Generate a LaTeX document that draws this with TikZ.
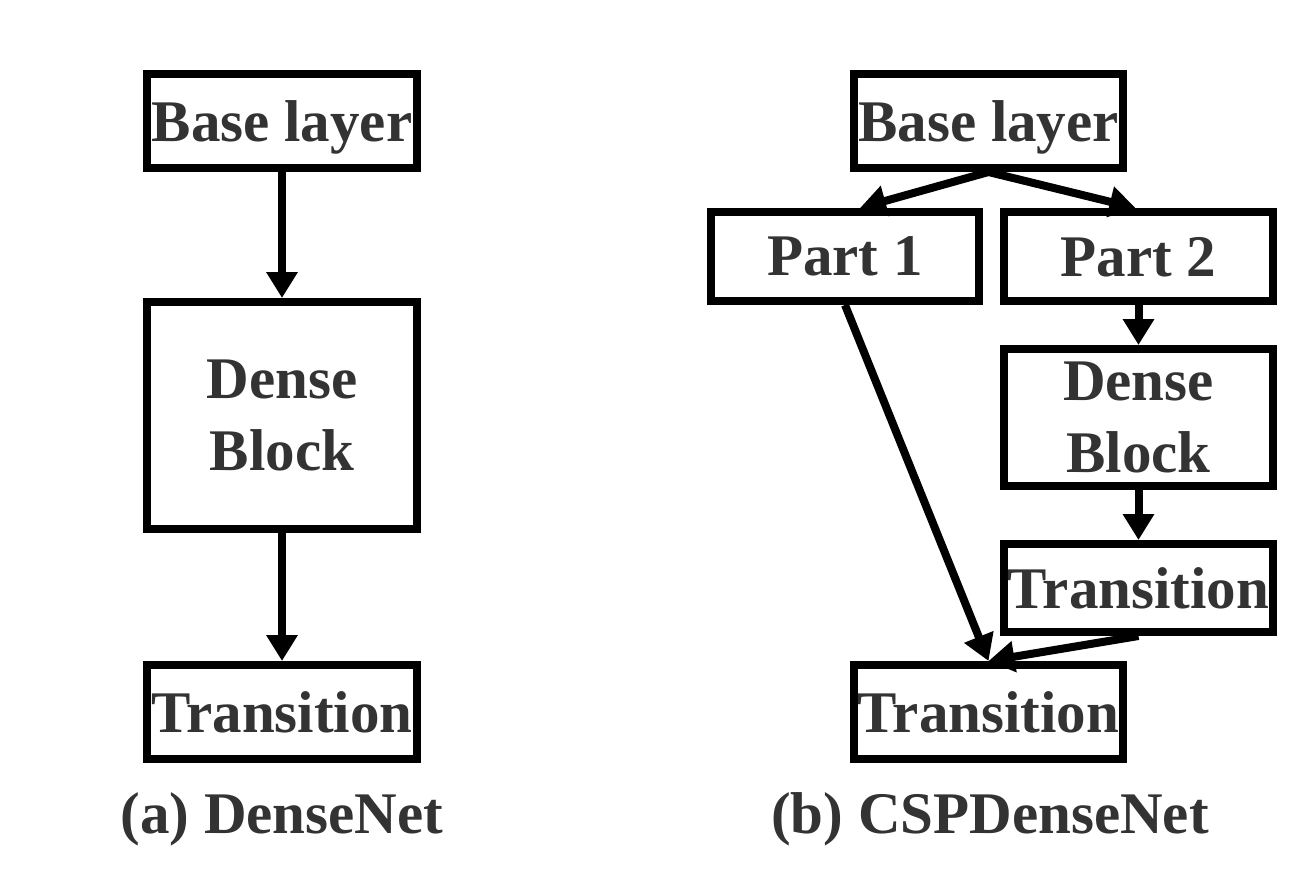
\documentclass[tikz,border=0pt]{standalone}
\usepackage{xcolor, fontspec}
\usepackage{tikz}
\usetikzlibrary{arrows.meta}
\setmainfont{Liberation Serif}
\definecolor{txtgray}{RGB}{51,51,51}

\begin{document}
\begin{tikzpicture}
	[x=1pt, y=-1pt,
	box/.style={draw=black, line width=8pt, outer sep=4pt, inner sep=0pt,
		minimum width=270pt, minimum height=94pt, align=center, text depth=0pt,
		font=\fontsize{59}{72}\selectfont\bfseries, text=txtgray},
	caption/.style={font=\fontsize{59}{72}\selectfont\bfseries, text=txtgray, text depth=0pt},
	link/.style={line width=8pt, -{Triangle[width=30pt,length=26pt]}}]
	\useasboundingbox[fill=white] (0,0) rectangle (1312,868);
	% (a) DenseNet
	\node[box] (aBase) at (282,121) {Base layer};
	\node[box, minimum height=227pt] (aDense) at (282,415.5) {Dense\\Block};
	\node[box] (aTrans) at (282,712) {Transition};
	\node[caption] (aCap) at (282,813) {(a) DenseNet};
	\draw[link] (aBase) -- (aDense);
	\draw[link] (aDense) -- (aTrans);
	% (b) CSPDenseNet
	\node[box, minimum width=269pt] (bBase) at (988.5,121) {Base layer};
	\node[box, minimum width=268pt, minimum height=89pt] (bPartA) at (845,256.5) {Part 1};
	\node[box, minimum width=269pt, minimum height=89pt] (bPartB) at (1138.5,256.5) {Part 2};
	\node[box, minimum width=269pt, minimum height=137pt] (bDense) at (1138.5,417.5) {Dense\\Block};
	\node[box, minimum width=269pt, minimum height=88pt] (bTransB) at (1138.5,588) {Transition};
	\node[box, minimum width=269pt] (bTrans) at (988.5,712) {Transition};
	\node[caption] (bCap) at (990,813) {(b) CSPDenseNet};
	\draw[link] (bBase.south) -- ([xshift=15pt]bPartA.north);
	\draw[link] (bBase.south) -- ([xshift=-3pt]bPartB.north);
	\draw[link] (bPartB) -- (bDense);
	\draw[link] (bDense) -- (bTransB);
	\draw[link] (bPartA.south) -- (bTrans.north);
	\draw[link] (bTransB.south) -- (bTrans.north);
\end{tikzpicture}
\end{document}
